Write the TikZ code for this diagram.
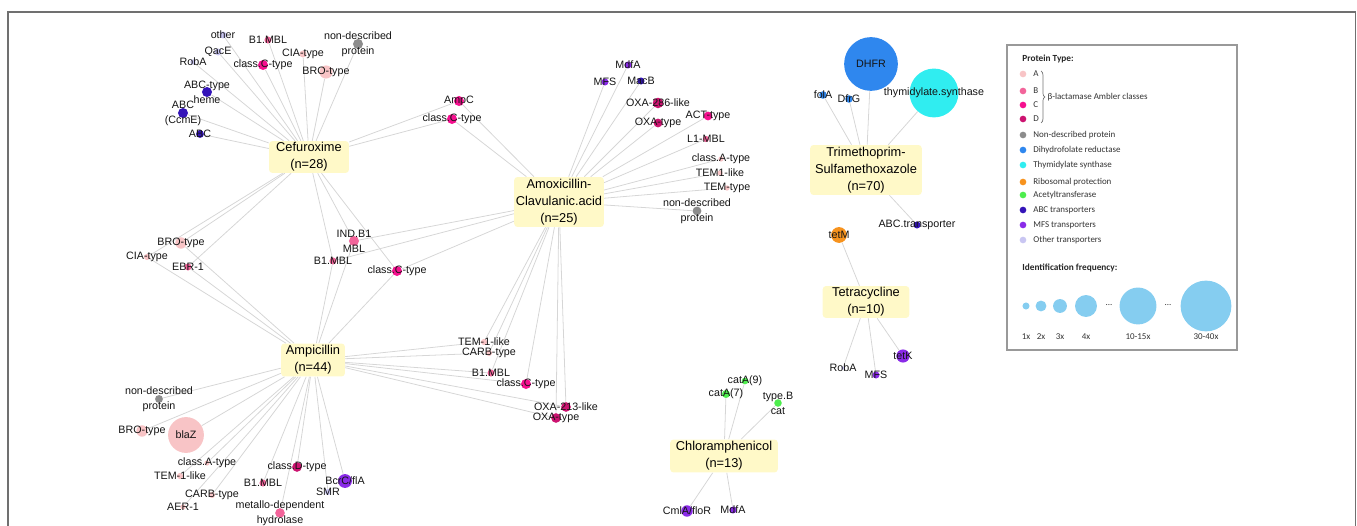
\documentclass[tikz,border=0pt]{standalone}
\usepackage{fontspec}
\setmainfont{Liberation Sans}
\newfontfamily\legfont{Carlito}
\usetikzlibrary{backgrounds,decorations.pathreplacing}
\definecolor{clsA}{HTML}{F8C4C6}
\definecolor{clsB}{HTML}{F2649A}
\definecolor{clsC}{HTML}{F5108F}
\definecolor{clsD}{HTML}{CC1370}
\definecolor{nondesc}{HTML}{8C8C8C}
\definecolor{dhfr}{HTML}{2F87EE}
\definecolor{thys}{HTML}{30EDF0}
\definecolor{ribo}{HTML}{F7931E}
\definecolor{acetyl}{HTML}{4DED4D}
\definecolor{abctr}{HTML}{3414B8}
\definecolor{mfstr}{HTML}{8A2BE8}
\definecolor{othtr}{HTML}{C9C6F2}
\definecolor{hubfill}{HTML}{FFF9C8}
\definecolor{edgegray}{HTML}{D6D6D6}
\definecolor{legblue}{HTML}{85CDF0}
\definecolor{framegray}{HTML}{707070}
\begin{document}
\begin{tikzpicture}[x=0.02cm,y=-0.02cm]
	\tikzset{hub/.style={fill=hubfill,rounded corners=1.8pt,align=center,inner sep=0pt,font=\fontsize{7.3}{9.6}\selectfont,text=black},
		gene/.style={circle,inner sep=0pt,minimum size=#1pt},
		lbl/.style={font=\fontsize{6.1}{8.5}\selectfont,align=center,inner sep=0pt,text=black!92},
		link/.style={draw=edgegray,line width=0.45pt},
		lgt/.style={font=\legfont\fontsize{5.1}{6}\selectfont,inner sep=0pt,text=black!80},
		lgh/.style={font=\legfont\bfseries\fontsize{5.3}{6}\selectfont,inner sep=0pt,text=black!85}}
	\useasboundingbox (0,0) rectangle (1357,526);
	\draw[framegray,line width=0.8pt] (8,540) -- (8,12) -- (1355.5,12) -- (1355.5,540);
	%Antibiotics
	\node[hub,minimum width=45.4pt,minimum height=18.1pt] (cef) at (309,157) {Cefuroxime\\(n=28)};
	\node[hub,minimum width=36.3pt,minimum height=18.7pt] (amp) at (313,360) {Ampicillin\\(n=44)};
	\node[hub,minimum width=51pt,minimum height=28.4pt] (amox) at (559,202) {Amoxicillin-\\Clavulanic.acid\\(n=25)};
	\node[hub,minimum width=63.5pt,minimum height=28.4pt] (tmp) at (866,170) {Trimethoprim-\\Sulfamethoxazole\\(n=70)};
	\node[hub,minimum width=49.3pt,minimum height=18.1pt] (tet) at (866,302) {Tetracycline\\(n=10)};
	\node[hub,minimum width=61.2pt,minimum height=18.7pt] (chl) at (724,456) {Chloramphenicol\\(n=13)};
	%Genes
	\foreach \n/\x/\y/\c/\s/\t in {cOth/223/35/othtr/4/other, cB1/268/40/clsB/4/B1.MBL,
		cNd/358/44/nondesc/5.7/non-described\\protein, cQac/218/52/othtr/4/QacE,
		cCia/303/54/clsA/4/CIA-type, cRob/193/62/othtr/3/RobA, cClC/263/65/clsC/5.7/class.C-type,
		cBro/326/72/clsA/7.5/BRO-type, cAbh/207/92/abctr/5.7/ABC-type\\heme,
		cAbm/183/113/abctr/5.7/ABC\\(CcmE), cAbc/200/134/abctr/4.5/ABC,
		caBro/181/243/clsA/6.5/BRO-type, caCia/147/257/clsA/3.5/CIA-type, caEbr/188/267/clsB/4/EBR-1,
		aIndB/354/241/clsB/5.7/IND.B1\\MBL, aB1/333/261/clsB/4/B1.MBL, aClC/397/271/clsC/5.7/class.C-type,
		cxAmpC/459/101/clsC/5.7/AmpC, cxClC/452/119/clsC/5.7/class.C-type,
		pNd/159/399/nondesc/4.5/non-described\\protein, pBro/142/431/clsA/6.5/BRO-type,
		pBlaZ/186/435/clsA/20.4/blaZ, pClA/207/463/clsA/3/class.A-type, pTem/180/476/clsA/3.5/TEM-1-like,
		pCarb/212/495/clsA/3.5/CARB-type, pAer/183/507/clsA/3/AER-1, pB1/263/483/clsB/4/B1.MBL,
		pClD/297/467/clsD/5.5/class.D-type, pMet/280/513/clsB/5.5/metallo-dependent\\hydrolase,
		pBcr/345/481/mfstr/7.9/{BcrC/flA}, pSmr/328/492/othtr/3.5/SMR,
		xTem/484/342/clsA/3.5/TEM-1-like, xCarb/489/353/clsA/3.5/CARB-type, xB1/491/373/clsB/4/B1.MBL,
		xClC/526/384/clsC/5.7/class.C-type, xOxa2/566/407/clsD/5.5/OXA-213-like, xOxa/556/418/clsD/5.5/OXA-type,
		mMdf/628/65/mfstr/4/MdfA, mMfs/605/82/mfstr/4/MFS, mMac/641/81/abctr/4/MacB,
		mOxa2/658/103/clsD/6/OXA-286-like, mOxa/658/123/clsD/5/OXA-type, mAct/708/116/clsC/5/ACT-type,
		mL1/706/139/clsB/3.5/L1-MBL, mClA/721/159/clsA/3/class.A-type, mTem1/720/173/clsA/3/TEM1-like,
		mTem/727/188/clsA/3/TEM-type, mNd/697/211/nondesc/5/non-described\\protein,
		hCat9/745/381/acetyl/3.8/catA(9), hCat7/726/394/acetyl/4.6/catA(7), hCatB/778/403/acetyl/4.3/type.B\\cat,
		hCml/687/511/mfstr/6.5/{CmlA/floR}, hMdf/733/510/mfstr/4/MdfA,
		tDhfr/871/64/dhfr/30.6/DHFR, tThy/934/93/thys/27.8/thymidylate.synthase,
		tFol/823/95/dhfr/4.3/folA, tDfr/849/99/dhfr/4.3/DfrG, tAbc/917/225/abctr/4/ABC.transporter,
		eTetM/839/235/ribo/9/tetM, eRob/843/368/othtr/2/RobA, eMfs/876/375/mfstr/4/MFS, eTetK/903/356/mfstr/7.5/tetK}{
		\node[gene=\s,fill=\c] (\n) at (\x,\y) {};
		\node[lbl] (\n-t) at (\x,\y) {\t};
	}
	\begin{pgfonlayer}{background}
		\foreach \b in {cOth,cB1,cNd,cQac,cCia,cRob,cClC,cBro,cAbh,cAbm,cAbc,caBro,caCia,caEbr,aIndB,aB1,aClC,cxAmpC,cxClC}
			\draw[link] (cef) -- (\b);
		\foreach \b in {caBro,caCia,caEbr,aIndB,aB1,aClC,pNd,pBro,pBlaZ,pClA,pTem,pCarb,pAer,pB1,pClD,pMet,pBcr,pSmr,xTem,xCarb,xB1,xClC,xOxa2,xOxa}
			\draw[link] (amp) -- (\b);
		\foreach \b in {aIndB,aB1,aClC,cxAmpC,cxClC,xTem,xCarb,xB1,xClC,xOxa2,xOxa,mMdf,mMfs,mMac,mOxa2,mOxa,mAct,mL1,mClA,mTem1,mTem,mNd}
			\draw[link] (amox) -- (\b);
		\foreach \b in {hCat9,hCat7,hCatB,hCml,hMdf}
			\draw[link] (chl) -- (\b);
		\foreach \b in {tDhfr,tThy,tFol,tDfr,tAbc}
			\draw[link] (tmp) -- (\b);
		\foreach \b in {eTetM,eRob,eMfs,eTetK}
			\draw[link] (tet) -- (\b);
	\end{pgfonlayer}
	%Legend
	\draw[black!40,line width=0.6pt] (1007,45) rectangle (1237,350);
	\node[lgh,anchor=west] (lgType) at (1022,59) {Protein Type:};
	\foreach \n/\y/\c/\t in {lgA/74/clsA/A, lgB/91/clsB/B, lgC/105/clsC/C, lgD/119/clsD/D,
		lgNd/135/nondesc/Non-described protein, lgDh/150/dhfr/Dihydrofolate reductase,
		lgTs/165/thys/Thymidylate synthase, lgRb/182/ribo/Ribosomal protection,
		lgAc/195/acetyl/Acetyltransferase, lgAbc/210/abctr/ABC transporters,
		lgMfs/225/mfstr/MFS transporters, lgOth/240/othtr/Other transporters}{
		\node[gene=3.8,fill=\c] (\n) at (1023,\y) {};
		\node[lgt,anchor=west] (\n-t) at (1033,\y) {\t};
	}
	\draw[black!55,line width=0.4pt,decorate,decoration={brace,amplitude=2.2pt}] (1041,71) -- (1041,123)
		node[lgt,midway,anchor=west,xshift=3.5pt] (lgBeta) {β-lactamase Ambler classes};
	\node[lgh,anchor=west] (lgFreq) at (1022,268) {Identification frequency:};
	\foreach \n/\x/\s/\t in {f1/1026/4/1x, f2/1041/6.2/2x, f3/1060/7.9/3x, f4/1086/12.5/4x, f10/1138/21/10-15x, f30/1206/28.9/30-40x}{
		\node[gene=\s,fill=legblue] (\n) at (\x,306) {};
		\node[lgt] (\n-t) at (\x,337) {\t};
	}
	\node[lgt] (gapA) at (1109,305) {...};
	\node[lgt] (gapB) at (1168,305) {...};
\end{tikzpicture}
\end{document}
